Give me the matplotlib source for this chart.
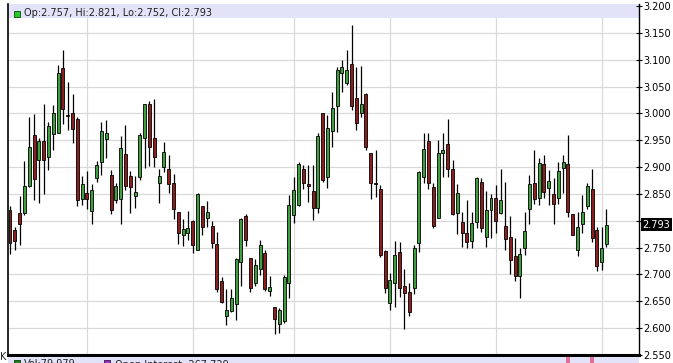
import matplotlib
matplotlib.use('Agg')
import matplotlib.pyplot as plt
from matplotlib.patches import Rectangle
import matplotlib.transforms as mtransforms

# ---------------- data ----------------
opens = [2.820, 2.783, 2.814, 2.814, 2.864, 2.959, 2.914, 2.949, 2.918, 2.961,
         2.964, 3.085, 2.997, 3.000, 2.989, 2.840, 2.851, 2.818, 2.880, 2.909,
         2.952, 2.885, 2.838, 2.841, 2.925, 2.883, 2.847, 2.881, 2.955, 3.017,
         2.955, 2.871, 2.901, 2.897, 2.871, 2.817, 2.774, 2.778, 2.799, 2.746,
         2.828, 2.805, 2.791, 2.757, 2.687, 2.623, 2.632, 2.645, 2.723, 2.809,
         2.730, 2.684, 2.710, 2.740, 2.670, 2.639, 2.608, 2.613, 2.684, 2.811,
         2.830, 2.897, 2.868, 2.856, 2.824, 3.000, 2.881, 2.968, 3.013, 3.075,
         3.056, 3.092, 3.028, 3.001, 3.037, 2.926, 2.870, 2.860, 2.744, 2.646,
         2.684, 2.741, 2.679, 2.667, 2.674, 2.758, 2.881, 2.949, 2.862, 2.805,
         2.927, 2.943, 2.896, 2.814, 2.797, 2.777, 2.762, 2.797, 2.873, 2.770,
         2.820, 2.842, 2.814, 2.790, 2.769, 2.735, 2.698, 2.749, 2.822, 2.871,
         2.842, 2.905, 2.861, 2.850, 2.842, 2.898, 2.906, 2.812, 2.746, 2.794,
         2.827, 2.859, 2.783, 2.724, 2.757]
highs = [2.828, 2.788, 2.847, 2.911, 2.994, 2.999, 2.955, 3.017, 2.984, 3.015,
         3.091, 3.118, 3.059, 3.036, 2.994, 2.883, 2.892, 2.868, 2.911, 2.984,
         2.987, 2.894, 2.870, 2.958, 2.978, 2.892, 2.883, 2.964, 3.018, 3.023,
         3.026, 2.897, 2.947, 2.922, 2.888, 2.817, 2.803, 2.819, 2.801, 2.851,
         2.828, 2.837, 2.799, 2.780, 2.695, 2.673, 2.673, 2.731, 2.806, 2.812,
         2.730, 2.729, 2.765, 2.746, 2.698, 2.639, 2.637, 2.699, 2.848, 2.881,
         2.910, 2.903, 2.904, 2.904, 2.963, 3.001, 2.997, 3.040, 3.087, 3.100,
         3.118, 3.165, 3.087, 3.088, 3.038, 2.927, 2.932, 2.867, 2.745, 2.703,
         2.762, 2.760, 2.711, 2.685, 2.755, 2.893, 2.963, 2.963, 2.870, 2.950,
         2.963, 2.989, 2.914, 2.868, 2.817, 2.839, 2.817, 2.881, 2.879, 2.856,
         2.850, 2.867, 2.896, 2.873, 2.809, 2.768, 2.750, 2.817, 2.886, 2.932,
         2.916, 2.923, 2.895, 2.879, 2.910, 2.923, 2.959, 2.813, 2.817, 2.848,
         2.871, 2.896, 2.788, 2.788, 2.821]
lows = [2.739, 2.745, 2.755, 2.811, 2.863, 2.838, 2.833, 2.850, 2.894, 2.932,
        2.964, 2.981, 2.969, 2.944, 2.828, 2.830, 2.821, 2.794, 2.872, 2.885,
        2.917, 2.813, 2.833, 2.794, 2.857, 2.814, 2.824, 2.876, 2.898, 2.902,
        2.900, 2.834, 2.890, 2.851, 2.803, 2.757, 2.753, 2.764, 2.740, 2.745,
        2.773, 2.788, 2.750, 2.667, 2.646, 2.606, 2.631, 2.615, 2.678, 2.753,
        2.668, 2.678, 2.699, 2.670, 2.660, 2.589, 2.591, 2.610, 2.656, 2.795,
        2.828, 2.859, 2.835, 2.801, 2.814, 2.873, 2.861, 2.938, 2.966, 3.040,
        3.053, 3.006, 2.969, 2.994, 2.932, 2.840, 2.844, 2.733, 2.665, 2.634,
        2.639, 2.658, 2.598, 2.623, 2.664, 2.741, 2.870, 2.859, 2.786, 2.805,
        2.882, 2.881, 2.811, 2.775, 2.752, 2.749, 2.749, 2.786, 2.780, 2.752,
        2.768, 2.777, 2.812, 2.746, 2.700, 2.687, 2.656, 2.737, 2.794, 2.832,
        2.830, 2.842, 2.830, 2.794, 2.831, 2.851, 2.807, 2.773, 2.735, 2.777,
        2.822, 2.761, 2.706, 2.709, 2.752]
closes = [2.759, 2.763, 2.794, 2.864, 2.938, 2.878, 2.949, 2.914, 2.976, 3.000,
          3.076, 3.009, 2.995, 2.970, 2.838, 2.869, 2.841, 2.857, 2.903, 2.967,
          2.964, 2.820, 2.865, 2.936, 2.865, 2.863, 2.854, 2.959, 3.017, 2.938,
          2.918, 2.883, 2.928, 2.869, 2.822, 2.778, 2.785, 2.786, 2.754, 2.850,
          2.789, 2.817, 2.759, 2.672, 2.648, 2.634, 2.656, 2.728, 2.803, 2.764,
          2.675, 2.718, 2.755, 2.673, 2.676, 2.617, 2.634, 2.696, 2.830, 2.858,
          2.906, 2.870, 2.865, 2.824, 2.957, 2.876, 2.972, 3.010, 3.080, 3.086,
          3.081, 3.013, 2.983, 3.018, 2.937, 2.870, 2.868, 2.736, 2.674, 2.690,
          2.736, 2.674, 2.665, 2.631, 2.749, 2.891, 2.933, 2.870, 2.790, 2.926,
          2.932, 2.896, 2.813, 2.852, 2.777, 2.761, 2.795, 2.879, 2.786, 2.820,
          2.842, 2.799, 2.839, 2.766, 2.727, 2.698, 2.738, 2.781, 2.869, 2.840,
          2.908, 2.853, 2.874, 2.832, 2.892, 2.909, 2.817, 2.774, 2.788, 2.816,
          2.865, 2.768, 2.715, 2.749, 2.793]

price_ticks = [2.55, 2.60, 2.65, 2.70, 2.75, 2.80, 2.85, 2.90, 2.95,
               3.00, 3.05, 3.10, 3.15, 3.20]
month_start_idx = [16, 38, 59, 79, 101, 123]
vol_peak_idx = [116, 121]
volume_text = "Vol:79,979"
oi_text = "Open Interest: 267,729"

# ---------------- figure ----------------
W, H = 673, 363
fig = plt.figure(figsize=(W / 100, H / 100), dpi=100)
fig.patch.set_facecolor('white')

ax_top_px, ax_bot_px = 4, 355
ax_left_px, ax_right_px = 8, 639
ax = fig.add_axes([ax_left_px / W, (H - ax_bot_px) / H,
                   (ax_right_px - ax_left_px) / W, (ax_bot_px - ax_top_px) / H])
ax.set_facecolor('white')

step_px = 4.81
first_px = 10
ax.set_xlim((ax_left_px - first_px) / step_px, (ax_right_px - first_px) / step_px)
px_per_price = 537.0
y_top = 3.2 + (6 - ax_top_px) / px_per_price
y_bot = 3.2 - (ax_bot_px - 6) / px_per_price
ax.set_ylim(y_bot, y_top)

grid_c = '#d9d9d9'
for p in price_ticks:
    ax.axhline(p, color=grid_c, lw=0.9, zorder=0)
for m in month_start_idx:
    ax.axvline(m, color=grid_c, lw=0.9, zorder=0)

# header band
band_h_px = 14
ax.add_patch(Rectangle((0, 1 - band_h_px / (ax_bot_px - ax_top_px)), 1,
                       band_h_px / (ax_bot_px - ax_top_px),
                       transform=ax.transAxes, facecolor='#e2e2f8',
                       edgecolor='none', zorder=1))

green = '#3f9e3f'
red = '#8b1e1e'
bw = 0.62
for i, (o, h, l, c) in enumerate(zip(opens, highs, lows, closes)):
    ax.vlines(i, l, h, color='black', lw=0.9, zorder=2)
    lo = min(o, c)
    hgt = max(abs(c - o), 0.0012)
    col = green if c > o else red
    ax.add_patch(Rectangle((i - bw / 2, lo), bw, hgt, facecolor=col,
                           edgecolor='black', lw=0.6, zorder=3))

# axes styling
for s in ['top']:
    ax.spines[s].set_visible(False)
ax.spines['left'].set_color('black')
ax.spines['left'].set_linewidth(1.2)
ax.spines['right'].set_color('black')
ax.spines['right'].set_linewidth(1.0)
ax.spines['bottom'].set_color('black')
ax.spines['bottom'].set_linewidth(2.2)
ax.set_xticks([])
ax.yaxis.tick_right()
ax.set_yticks(price_ticks)
last_close = closes[-1]
ax.set_yticklabels(['' if abs(p - 2.80) < 1e-9 else f'{p:.3f}' for p in price_ticks])
ax.tick_params(axis='y', direction='inout', length=4, width=0.8, pad=1,
               labelsize=7, colors='black')
for lab in ax.get_yticklabels():
    lab.set_family('DejaVu Sans')

trans = mtransforms.blended_transform_factory(ax.transAxes, ax.transData)
ax.text(1 + 3.5 / (ax_right_px - ax_left_px), last_close, f'{last_close:.3f}',
        transform=trans, ha='left', va='center', color='white', fontsize=7,
        bbox=dict(facecolor='black', edgecolor='none', pad=1.0), zorder=5)

# header text
header = (f"Op:{opens[-1]:.3f}, Hi:{highs[-1]:.3f}, "
          f"Lo:{lows[-1]:.3f}, Cl:{closes[-1]:.3f}")
fig.patches.append(Rectangle((14 / W, (H - 16.5) / H), 6 / W, 6 / H,
                             transform=fig.transFigure, facecolor='#22cc22',
                             edgecolor='#114411', lw=0.6, zorder=6))
fig.text(24 / W, (H - 13) / H, header, ha='left', va='center', fontsize=7,
         color='#222222', zorder=6)

# lower pane (mostly cut off)
ax2 = fig.add_axes([ax_left_px / W, 0, (ax_right_px - ax_left_px) / W, 6.5 / H])
ax2.set_facecolor('#e2e2f8')
ax2.set_xlim(ax.get_xlim())
ax2.set_ylim(0, 1)
for s in ax2.spines.values():
    s.set_visible(False)
ax2.set_xticks([])
ax2.set_yticks([])
for v in vol_peak_idx:
    ax2.add_patch(Rectangle((v - 0.35, 0), 0.7, 1, facecolor='#e0709a',
                            edgecolor='none'))
fig.patches.append(Rectangle((14 / W, (H - 366) / H), 6 / W, 6 / H,
                             transform=fig.transFigure, facecolor='#228822',
                             edgecolor='#113311', lw=0.6, zorder=6))
fig.text(24 / W, (H - 359.5) / H, volume_text, ha='left', va='top', fontsize=7,
         color='#222222')
fig.patches.append(Rectangle((104 / W, (H - 366) / H), 6 / W, 6 / H,
                             transform=fig.transFigure, facecolor='#9933cc',
                             edgecolor='#331144', lw=0.6, zorder=6))
fig.text(115 / W, (H - 359.5) / H, oi_text, ha='left', va='top', fontsize=7,
         color='#222222')
fig.text(0, (H - 357) / H, 'K', ha='left', va='center', fontsize=7, color='#222222')

fig.savefig('out.png', dpi=100)
